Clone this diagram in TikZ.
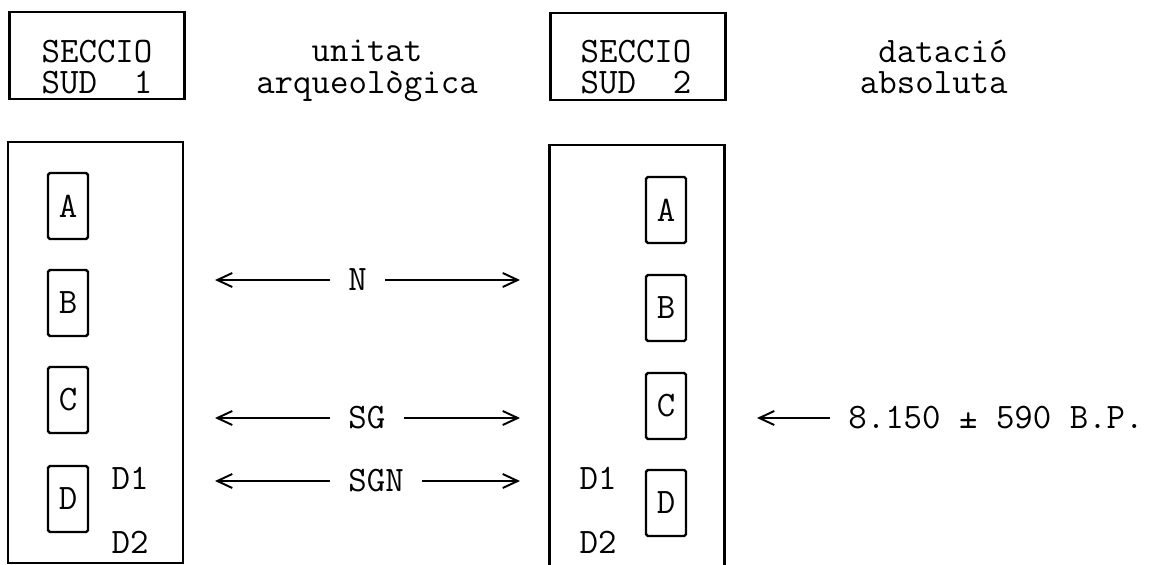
\documentclass[tikz,border=0pt]{standalone}
\usetikzlibrary{arrows.meta}

\begin{document}
\begin{tikzpicture}[x=0.02cm, y=-0.02cm]
    % ================= estils =================
    \tikzset{
        % lletra de màquina d'escriure
        tw/.style={font=\fontsize{20.4}{18}\selectfont\ttfamily, inner sep=0pt},
        % caixes de capçalera i columnes
        hbox/.style={draw, line width=1.5pt, minimum width=3.5cm, minimum height=1.74cm, inner sep=0pt},
        colbox/.style={draw, line width=1.5pt, minimum width=3.5cm, inner sep=0pt},
        % caixes de les unitats A-D
        ubox/.style={tw, draw, line width=1.4pt, rounded corners=1pt, minimum width=0.8cm, minimum height=1.32cm},
        % etiquetes entre fletxes
        lbl/.style={tw, inner xsep=0.36cm},
        link/.style={line width=1.4pt, -{Straight Barb[length=3mm, width=2.8mm, line width=1.1pt]}}
    }
    \useasboundingbox (0,0) rectangle (1158,564);

    % ================= capçaleres =================
    \node[hbox] (hdrA) at (97,55.5) {};
    \node[tw, align=left] (hdrAtxt) at (97,67) {SECCIO\\SUD\ \ 1};
    \node[hbox] (hdrB) at (638,56.5) {};
    \node[tw, align=left] (hdrBtxt) at (636,67) {SECCIO\\SUD\ \ 2};
    \node[tw, align=center] (unitat) at (367,71) {unitat\\arqueològica};
    \node[tw, align=right, anchor=east] (datacio) at (1008,67) {datació\\absoluta};

    % ================= columnes =================
    \node[colbox, minimum height=8.42cm] (colL) at (95.5,352.5) {};
    \node[colbox, minimum height=8.68cm] (colR) at (637,362) {};

    % unitats secció 1
    \node[ubox] (uA1) at (68,206) {A};
    \node[ubox] (uB1) at (68,303) {B};
    \node[ubox] (uC1) at (68,400) {C};
    \node[ubox] (uD1) at (68,499) {D};
    \node[tw] (dA1) at (130,478) {D1};
    \node[tw] (dB1) at (130,542) {D2};

    % unitats secció 2
    \node[ubox] (uA2) at (666,210) {A};
    \node[ubox] (uB2) at (666,308) {B};
    \node[ubox] (uC2) at (666,406) {C};
    \node[ubox] (uD2) at (666,503) {D};
    \node[tw] (dA2) at (598,478) {D1};
    \node[tw] (dB2) at (598,542) {D2};

    % ================= correlacions =================
    \coordinate (nL) at (215,280);   \coordinate (nR) at (520,280);
    \coordinate (sgL) at (215,418);  \coordinate (sgR) at (520,418);
    \coordinate (sgnL) at (215,481); \coordinate (sgnR) at (520,481);

    \node[lbl, anchor=west] (lblN) at (330,280) {N};
    \node[lbl, anchor=west] (lblSG) at (330,418) {SG};
    \node[lbl, anchor=west] (lblSGN) at (330,481) {SGN};

    \draw[link] (lblN) -- (nL);
    \draw[link] (lblN) -- (nR);
    \draw[link] (lblSG) -- (sgL);
    \draw[link] (lblSG) -- (sgR);
    \draw[link] (lblSGN) -- (sgnL);
    \draw[link] (lblSGN) -- (sgnR);

    % datació absoluta
    \coordinate (dtL) at (757,418);
    \node[lbl, anchor=west] (lblDate) at (830,418) {8.150 ± 590 B.P.};
    \draw[link] (lblDate) -- (dtL);

\end{tikzpicture}
\end{document}
